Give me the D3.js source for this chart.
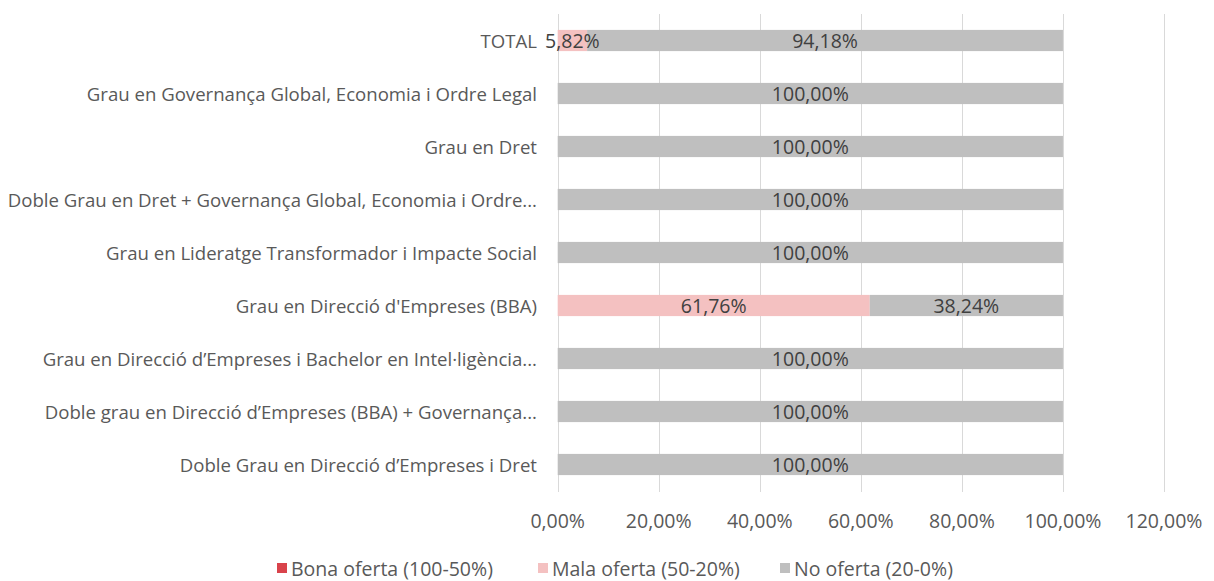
<!DOCTYPE html>
<html>
<head>
<meta charset="utf-8">
<script src="https://cdn.jsdelivr.net/npm/d3@7"></script>
<style>
  html, body { margin: 0; padding: 0; background: #fff; }
  svg { display: block; font-family: "Open Sans", sans-serif; }
</style>
</head>
<body>
<svg id="chart" width="1214" height="581"></svg>
<script>
const categories = [
  "TOTAL",
  "Grau en Governança Global, Economia i Ordre Legal",
  "Grau en Dret",
  "Doble Grau en Dret + Governança Global, Economia i Ordre...",
  "Grau en Lideratge Transformador i Impacte Social",
  "Grau en Direcció d'Empreses (BBA)",
  "Grau en Direcció d’Empreses i Bachelor en Intel·ligència...",
  "Doble grau en Direcció d’Empreses (BBA) + Governança...",
  "Doble Grau en Direcció d’Empreses i Dret"
];
const seriesNames = ["Bona oferta (100-50%)", "Mala oferta (50-20%)", "No oferta (20-0%)"];
const bona  = [0, 0, 0, 0, 0, 0, 0, 0, 0];
const mala  = [0.0582, 0, 0, 0, 0, 0.6176, 0, 0, 0];
const noOf  = [0.9418, 1, 1, 1, 1, 0.3824, 1, 1, 1];
const tickValues = [0, 0.2, 0.4, 0.6, 0.8, 1.0, 1.2];
const colors = ["#d9434b", "#f4c1c1", "#bfbfbf"];

const locale = d3.formatLocale({decimal: ",", thousands: ".", grouping: [3], currency: ["", "€"]});
const pct = locale.format(".2%");

const svg = d3.select("#chart");
const x = d3.scaleLinear().domain([0, 1.2]).range([557.7, 1164]);
const y = d3.scaleBand().domain(categories).range([14, 491]).paddingInner(0.6).paddingOuter(0.3);

// gridlines
svg.append("g").selectAll("line").data(tickValues).join("line")
  .attr("x1", d => Math.round(x(d)) + 0.5).attr("x2", d => Math.round(x(d)) + 0.5)
  .attr("y1", 14).attr("y2", 492)
  .attr("stroke", "#d9d9d9").attr("stroke-width", 1);

// stacked data
const rows = categories.map((c, i) => ({cat: c, bona: bona[i], mala: mala[i], no: noOf[i]}));
const stack = d3.stack().keys(["bona", "mala", "no"])(rows);

const layers = svg.append("g").selectAll("g").data(stack).join("g")
  .attr("fill", (d, i) => colors[i]);
layers.selectAll("rect").data(d => d).join("rect")
  .attr("x", d => x(d[0]))
  .attr("width", d => x(d[1]) - x(d[0]))
  .attr("y", d => y(d.data.cat))
  .attr("height", y.bandwidth());

// data labels
const labelG = svg.append("g");
stack.forEach(layer => {
  layer.forEach(d => {
    const v = d[1] - d[0];
    if (v > 0) {
      labelG.append("text")
        .attr("x", (x(d[0]) + x(d[1])) / 2)
        .attr("y", y(d.data.cat) + y.bandwidth() / 2)
        .attr("text-anchor", "middle")
        .attr("dominant-baseline", "central")
        .attr("font-size", 19.5)
        .attr("fill", "#404040")
        .text(pct(v));
    }
  });
});

// category labels
svg.append("g").selectAll("text").data(categories).join("text")
  .attr("x", 537)
  .attr("y", d => y(d) + y.bandwidth() / 2)
  .attr("text-anchor", "end")
  .attr("dominant-baseline", "central")
  .attr("font-size", 18.6)
  .attr("fill", "#595959")
  .text(d => d);

// x tick labels
svg.append("g").selectAll("text").data(tickValues).join("text")
  .attr("x", d => x(d))
  .attr("y", 520)
  .attr("text-anchor", "middle")
  .attr("dominant-baseline", "central")
  .attr("font-size", 19.5)
  .attr("fill", "#595959")
  .text(d => pct(d));

// legend
const legendX = [277, 538, 780];
const lg = svg.append("g").selectAll("g").data(seriesNames).join("g")
  .attr("transform", (d, i) => `translate(${legendX[i]},568)`);
lg.append("rect").attr("x", 0).attr("y", -5).attr("width", 10).attr("height", 10)
  .attr("fill", (d, i) => colors[i]);
lg.append("text").attr("x", 14).attr("y", 0)
  .attr("dominant-baseline", "central")
  .attr("font-size", 19.5)
  .attr("fill", "#595959")
  .text(d => d);
</script>
</body>
</html>
